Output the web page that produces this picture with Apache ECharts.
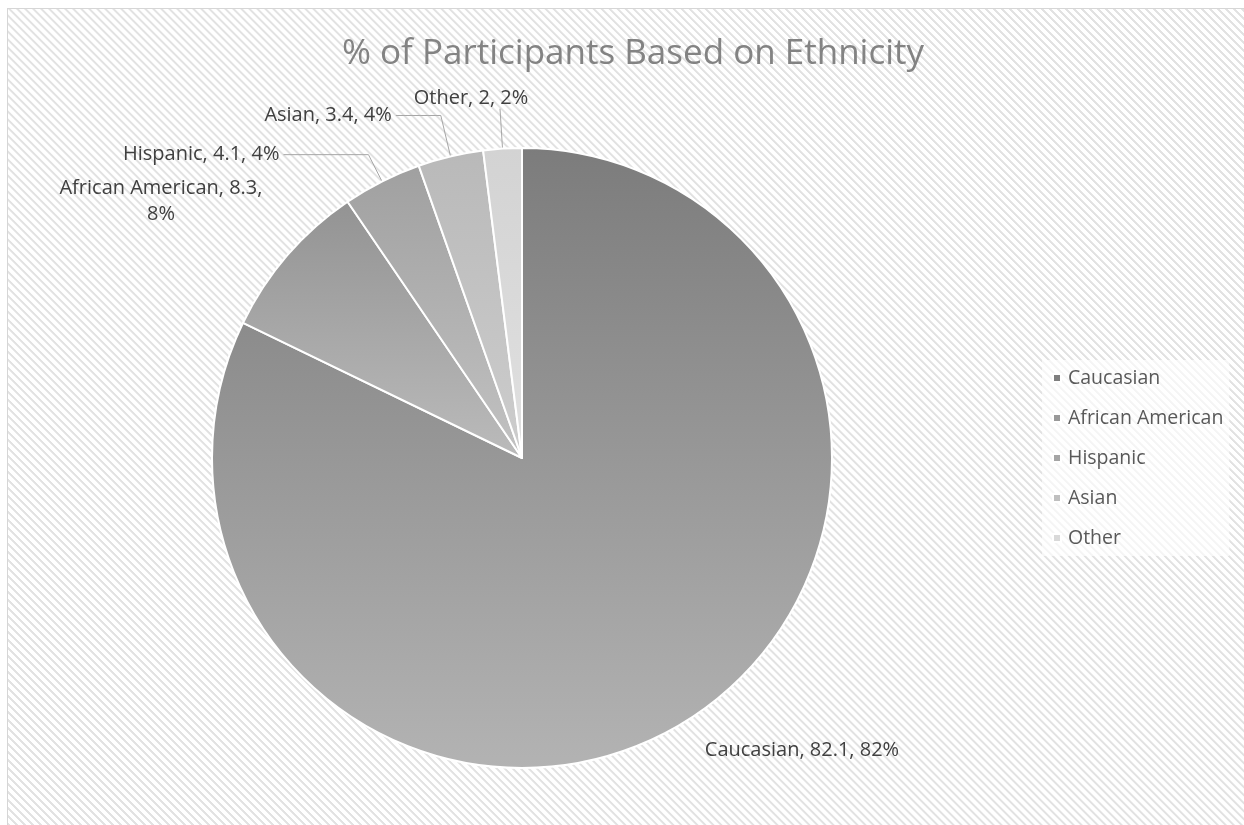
<!DOCTYPE html>
<html>
<head>
<meta charset="utf-8">
<script src="https://cdn.jsdelivr.net/npm/echarts@6/dist/echarts.min.js"></script>
<style>
  html, body { margin: 0; padding: 0; background: #ffffff; overflow: hidden; }
  #frame {
    position: absolute; left: 7px; top: 8px; width: 1240px; height: 820px;
    border-left: 1px solid #d6d6d6; border-top: 1px solid #d6d6d6;
    background: repeating-linear-gradient(45deg, #ffffff 0px, #ffffff 2.2px, #e2e2e2 2.8px, #e2e2e2 4.2px, #ffffff 4.8px, #ffffff 5.66px);
  }
  #chart { position: absolute; left: 0; top: 0; width: 1244px; height: 825px; }
</style>
</head>
<body>
<div id="frame"></div>
<div id="chart"></div>
<script>
const categories = ['Caucasian', 'African American', 'Hispanic', 'Asian', 'Other'];
const values = [82.1, 8.3, 4.1, 3.4, 2];
const titleText = '% of Participants Based on Ethnicity';

const topColors = ['#7c7c7c', '#939393', '#a0a0a0', '#b9b9b9', '#d3d3d3'];
const bottomColors = ['#b3b3b3', '#bbbbbb', '#c2c2c2', '#cdcdcd', '#e0e0e0'];
const legendColors = ['#7f7f7f', '#999999', '#a5a5a5', '#bfbfbf', '#d9d9d9'];
const lineLengths = [6, 60, 30, 42, 40];
const lineLengths2 = [0, 0, 85, 45, 0];
const showLines = [false, false, true, true, true];
const labelShift = [
  { dx: 11, dy: 25 },
  { dx: -77, dy: -15, align: 'center' },
  { dx: 0, dy: 0 },
  { dx: 0, dy: 0 },
  { dx: -25, dy: -10, align: 'center' }
];

const font = '"Open Sans", Lato, sans-serif';

const data = categories.map((name, i) => ({
  name: name,
  value: values[i],
  itemStyle: {
    color: new echarts.graphic.LinearGradient(0, 0, 0, 1, [
      { offset: 0, color: topColors[i] },
      { offset: 1, color: bottomColors[i] }
    ])
  },
  labelLine: { show: showLines[i], length: lineLengths[i], length2: lineLengths2[i] },
  label: i === 1 ? { formatter: '{b}, {c},\n{d}%', align: 'center' } : {}
}));

const chart = echarts.init(document.getElementById('chart'), null, { renderer: 'canvas' });
chart.setOption({
  backgroundColor: 'transparent',
  animation: false,
  title: {
    text: titleText,
    left: 337,
    top: 32,
    textStyle: { fontFamily: font, fontSize: 35, fontWeight: 'normal', color: '#838383' }
  },
  legend: {
    orient: 'vertical',
    left: 1042,
    top: 360,
    padding: [8, 6, 8, 10],
    backgroundColor: 'rgba(255,255,255,0.65)',
    itemGap: 20,
    itemWidth: 8,
    itemHeight: 8,
    icon: 'rect',
    data: categories.map((c, i) => ({ name: c, itemStyle: { color: legendColors[i] } })),
    textStyle: { fontFamily: font, fontSize: 19.5, color: '#595959', padding: [0, 0, 0, 2] }
  },
  series: [{
    type: 'pie',
    center: [522, 458],
    radius: [0, 310],
    startAngle: 90,
    clockwise: true,
    percentPrecision: 0,
    avoidLabelOverlap: false,
    itemStyle: { borderColor: '#ffffff', borderWidth: 2 },
    label: {
      show: true,
      position: 'outside',
      formatter: '{b}, {c}, {d}%',
      fontFamily: font,
      fontSize: 20,
      color: '#404040',
      lineHeight: 26,
      distanceToLabelLine: 4
    },
    labelLine: { lineStyle: { color: '#a6a6a6', width: 1 }, smooth: false },
    labelLayout: function (p) { return labelShift[p.dataIndex]; },
    emphasis: { disabled: true },
    data: data
  }]
});
</script>
</body>
</html>
